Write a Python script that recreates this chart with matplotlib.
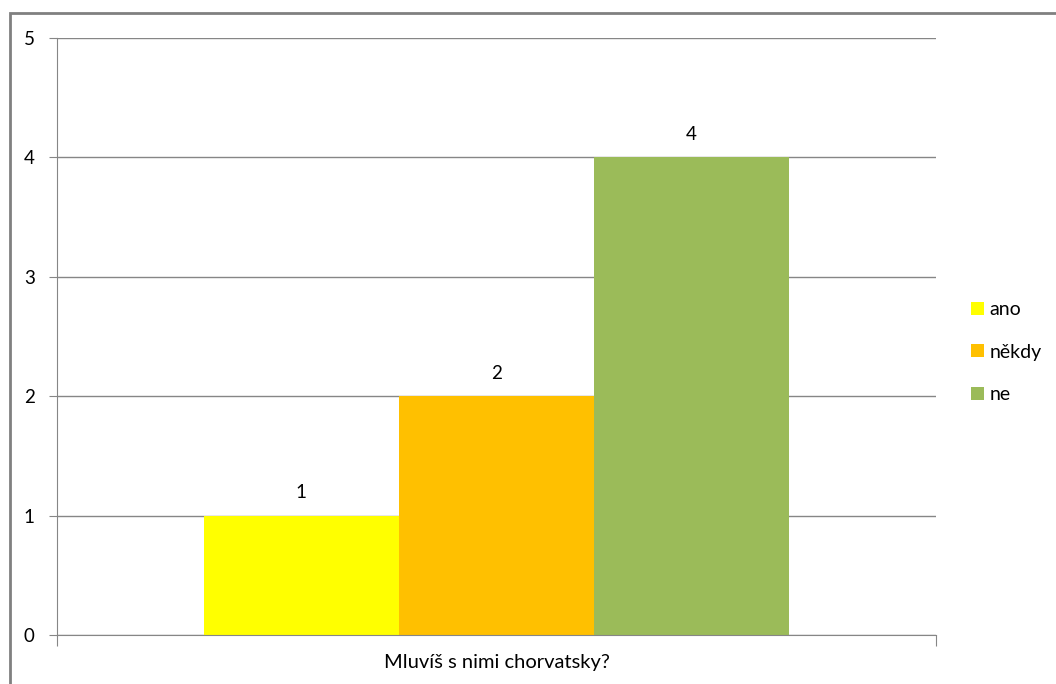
import matplotlib.pyplot as plt
from matplotlib.patches import Rectangle

# data
category = "Mluvíš s nimi chorvatsky?"
series = ["ano", "někdy", "ne"]
values = [1, 2, 4]
colors = ["#FFFF00", "#FFC000", "#9BBB59"]

plt.rcParams['font.family'] = ['Lato', 'DejaVu Sans']

fig = plt.figure(figsize=(10.56, 6.84), dpi=100)
ax = fig.add_axes([57 / 1056, 1 - 635 / 684, 879 / 1056, 597 / 684])

w = 0.222
offsets = [-w, 0, w]
for name, v, c, off in zip(series, values, colors, offsets):
    ax.bar(off, v, width=w, color=c, label=name, zorder=3)
    ax.text(off, v + 0.12, str(v), ha="center", va="bottom", fontsize=13.5, color="#000000")

ax.set_xlim(-0.5, 0.5)
ax.set_ylim(0, 5)
ax.set_yticks(range(0, 6))
ax.set_xticks([-0.5, 0.5])
ax.set_xticklabels(["", ""])
ax.tick_params(axis="y", length=6, color="#868686", labelsize=13.5, pad=10)
ax.tick_params(axis="x", length=8, color="#868686")
ax.yaxis.grid(True, color="#868686", linewidth=1, zorder=0)
for s in ["top", "right"]:
    ax.spines[s].set_visible(False)
for s in ["left", "bottom"]:
    ax.spines[s].set_color("#868686")
    ax.spines[s].set_zorder(4)
ax.text(0, -0.16, category, transform=ax.transData, ha="center", va="top", fontsize=14.5)

leg = fig.legend(loc="center left", bbox_to_anchor=(0.903, 0.485), frameon=False,
                 fontsize=14, handlelength=0.65, handleheight=0.65, handletextpad=0.3,
                 labelspacing=1.3)

# outer chart border
fig.add_artist(Rectangle((10 / 1056, -0.05), 1.1, 1 - 13 / 684 + 0.05, transform=fig.transFigure,
                         fill=False, edgecolor="#808080", linewidth=2))

fig.savefig("out.png", dpi=100)
